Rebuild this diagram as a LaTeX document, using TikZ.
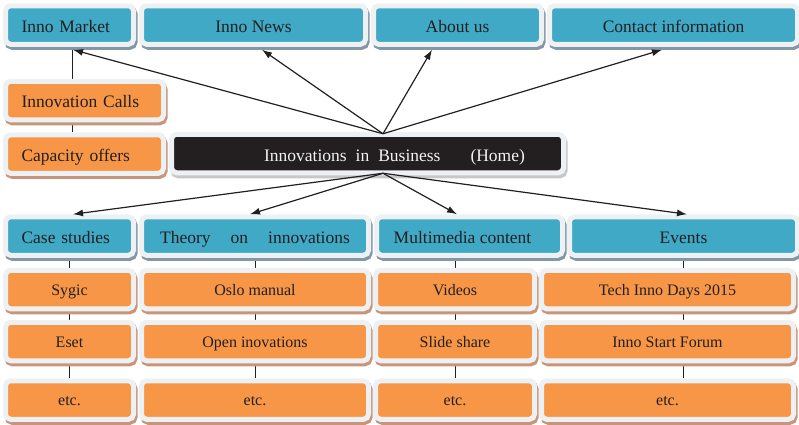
\documentclass[tikz,border=0pt]{standalone}
\usepackage{fontspec}
\setmainfont{Liberation Serif}
\usepackage{tikz}
\usetikzlibrary{arrows.meta}
\usetikzlibrary{backgrounds}
\definecolor{tileframe}{HTML}{EEF1F4}
\definecolor{tileblue}{HTML}{3FA9C6}
\definecolor{shadeblue}{HTML}{8497A4}
\definecolor{tileorange}{HTML}{F79646}
\definecolor{shadeorange}{HTML}{C9957A}
\definecolor{tileblack}{HTML}{231F20}
\definecolor{shadeblack}{HTML}{C6C7C9}
\definecolor{ink}{HTML}{231F20}
\newcommand{\headfont}{\fontsize{17.5}{20}\selectfont}
\newcommand{\itemfont}{\fontsize{16}{18}\selectfont}

\tikzset{
  tile/.style={draw=tileframe, line width=5pt, rounded corners=5pt,
    minimum height=38.5pt, inner xsep=8pt, inner ysep=1pt, text=ink, font=\headfont,
    text height=14pt, text depth=0pt},
  bluetile/.style={tile, fill=tileblue,
    preaction={draw=shadeblue, fill=shadeblue, transform canvas={xshift=1.5pt,yshift=-3pt}}},
  orangetile/.style={tile, fill=tileorange,
    preaction={draw=shadeorange, fill=shadeorange, transform canvas={xshift=1.5pt,yshift=-3pt}}},
  itemtile/.style={orangetile, font=\itemfont, text height=11pt},
  hometile/.style={tile, fill=tileblack, text=white!95!black, text height=15pt,
    preaction={draw=shadeblack, fill=shadeblack, transform canvas={xshift=1.5pt,yshift=-3pt}}},
  leftlabel/.style={align=left, inner xsep=16pt},
  link/.style={-{Latex[length=10pt,width=7pt]}, line width=1.2pt, draw=ink},
  stem/.style={line width=0.9pt, draw=ink}
}

\begin{document}
\begin{tikzpicture}[x=1pt,y=-1pt]
\useasboundingbox (0,0) rectangle (799,424);
% top menu
\node[bluetile, minimum width=128pt, text width=96pt, leftlabel] (market) at (69.5,25) {Inno Market};
\node[bluetile, minimum width=224pt] (news) at (253.5,25) {Inno News};
\node[bluetile, minimum width=168pt] (about) at (457.5,25) {About us};
\node[bluetile, minimum width=248pt] (contact) at (673.5,25) {Contact information};
\node[orangetile, minimum width=158pt, text width=126pt, leftlabel] (calls) at (84.5,100.5) {Innovation Calls};
\node[orangetile, minimum width=158pt, text width=126pt, leftlabel] (capacity) at (84.5,154) {Capacity offers};
% home
\node[hometile, minimum width=392pt] (home) at (367.5,153.5)
  {\hspace*{54pt}Innovations\hspace{9pt}in\hspace{9pt}Business\hspace{30pt}(Home)};
\coordinate (hubN) at ([xshift=15.5pt,yshift=-2pt]home.north);
\coordinate (hubS) at ([xshift=15.5pt,yshift=2pt]home.south);
% sections
\node[bluetile, minimum width=128pt, text width=96pt, leftlabel] (cases) at (69.5,236) {Case studies};
\node[bluetile, minimum width=227pt] (theory) at (255,236) {Theory\hspace{20pt}on\hspace{20pt}innovations};
\node[bluetile, minimum width=186pt] (media) at (469.5,236) {Multimedia content\hspace*{14pt}};
\node[bluetile, minimum width=228pt] (events) at (683.5,236) {Events};
% items
\node[itemtile, minimum width=128pt] (sygic) at (69.5,289.5) {Sygic};
\node[itemtile, minimum width=227pt] (oslo) at (255,289.5) {Oslo manual};
\node[itemtile, minimum width=159pt] (videos) at (455,289.5) {Videos};
\node[itemtile, minimum width=252pt] (techdays) at (667.5,289.5) {Tech Inno Days 2015};
\node[itemtile, minimum width=128pt] (eset) at (69.5,341.5) {Eset};
\node[itemtile, minimum width=227pt] (openinno) at (255,341.5) {Open inovations};
\node[itemtile, minimum width=159pt] (slides) at (455,341.5) {Slide share};
\node[itemtile, minimum width=252pt] (startforum) at (667.5,341.5) {Inno Start Forum};
\node[itemtile, minimum width=128pt] (etcA) at (69.5,400) {etc.};
\node[itemtile, minimum width=227pt] (etcB) at (255,400) {etc.};
\node[itemtile, minimum width=159pt] (etcC) at (455,400) {etc.};
\node[itemtile, minimum width=252pt] (etcD) at (667.5,400) {etc.};
% column stems
\begin{scope}[on background layer]
\draw[stem] ([xshift=2.5pt]market.south) -- ([xshift=2.5pt]market.south |- capacity.north);
\draw[stem] (cases) -- (etcA);
\draw[stem] (theory) -- (etcB);
\draw[stem] (videos |- media.south) -- (etcC);
\draw[stem] (events.south) -- (events.south |- etcD.north);
\end{scope}
% links from home
\draw[link] (hubN) -- ([xshift=3.5pt,yshift=-3pt]market.south);
\draw[link] (hubN) -- ([xshift=8.5pt,yshift=-3pt]news.south);
\draw[link] (hubN) -- ([xshift=-25.5pt,yshift=-3pt]about.south);
\draw[link] (hubN) -- ([xshift=-11.5pt,yshift=-3pt]contact.south);
\draw[link] (hubS) -- ([xshift=3.5pt]cases.north);
\draw[link] (hubS) -- ([xshift=-5pt]theory.north);
\draw[link] (hubS) -- ([xshift=-12.5pt]media.north);
\draw[link] (hubS) -- ([xshift=3.5pt]events.north);
\end{tikzpicture}
\end{document}
